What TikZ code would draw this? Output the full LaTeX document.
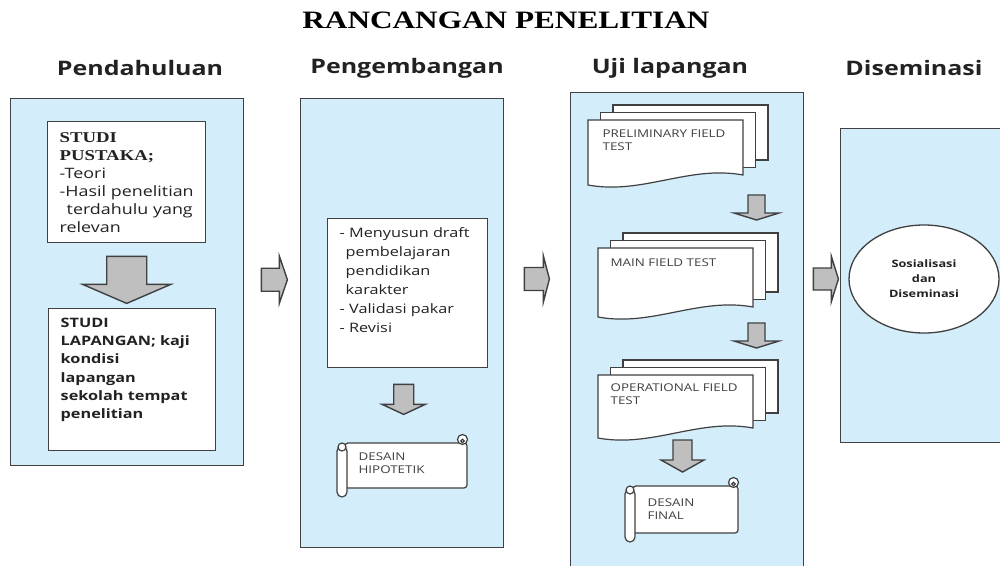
\documentclass[tikz,border=0pt]{standalone}
\usepackage{fontspec}
\setmainfont{Liberation Serif}[FakeStretch=1.25]
\setsansfont{Open Sans}[FakeStretch=1.25]
\usetikzlibrary{positioning, shapes.geometric, calc}
\definecolor{cpanel}{HTML}{D3EDFA}
\definecolor{cline}{HTML}{404040}
\definecolor{carrow}{HTML}{BFBFBF}
\definecolor{ctext}{HTML}{222222}
\tikzset{
  every picture/.style={font=\sffamily, line width=1.2pt},
  panel/.style={draw=cline, fill=cpanel, anchor=north west, inner sep=0pt, line width=1.4pt},
  box/.style={draw=cline, fill=white, anchor=north west, line width=1.4pt, text=ctext,
    inner xsep=12pt, inner ysep=9pt},
  blockarr/.style={draw=cline, fill=carrow, line width=1.4pt, line join=miter},
  page/.style={draw=cline, fill=white, line width=1.2pt},
  title/.style={font=\rmfamily\bfseries\fontsize{25}{30}\selectfont},
  header/.style={font=\sffamily\bfseries\fontsize{20}{24}\selectfont, text=ctext},
  doctext/.style={font=\sffamily\fontsize{10.7}{13}\selectfont, text=cline, align=left,
    anchor=north west, inner sep=0pt},
}
\newcommand{\serifbf}[1]{{\rmfamily\bfseries\fontsize{15}{18}\selectfont #1}}
% block arrow: [rotate]{tail}{shaft half}{shaft length}{head half}{head length}
\newcommand{\blockarrow}[6][0]{%
  \draw[blockarr, shift={#2}, rotate=#1] (0,-#3) -- (#4,-#3) -- (#4,-#5) -- (#4+#6,0)
    -- (#4,#5) -- (#4,#3) -- (0,#3) -- cycle;}
% stack of three pages: {top left of front page}{width}{height}
\newcommand{\docstack}[3]{%
  \begin{scope}[shift={#1}]
    \draw[page] (25,-15) rectangle ++(#2,#3);
    \draw[page] (12.5,-7.5) rectangle ++(#2,#3);
    \draw[page] (0,0) -- (#2,0) -- (#2,#3) .. controls (0.65*#2,#3-10) and (0.35*#2,#3+20) .. (0,#3+10) -- cycle;
  \end{scope}}
% scroll: {top left}{width}{height}
\newcommand{\scrollshape}[3]{%
  \begin{scope}[shift={#1}]
    \draw[page, rounded corners=3pt] (8,6) rectangle (#2,#3-9);
    \draw[page] (#2-4.5,2.5) circle (5);
    \draw[page] (#2-4.5,4) circle (1.8);
    \draw[page, rounded corners=5pt] (0,9) rectangle (10,#3);
    \draw[page] (5,10) circle (4);
  \end{scope}}

\begin{document}
\begin{tikzpicture}[x=1pt, y=-1pt]
  \useasboundingbox (0,0) rectangle (1000,565);
  \node[title] (title) at (506,20) {RANCANGAN PENELITIAN};
  \node[header] (hpend) at (140,68) {Pendahuluan};
  \node[header] (hpeng) at (407,68) {Pengembangan};
  \node[header] (huji) at (670,68) {Uji lapangan};
  \node[header] (hdis) at (914,68) {Diseminasi};

  % panels
  \node[panel, minimum width=233pt, minimum height=367pt] (pend) at (10,98) {};
  \node[panel, minimum width=203pt, minimum height=449pt] (peng) at (300,98) {};
  \node[panel, minimum width=233pt, minimum height=490pt] (uji) at (570,92) {};
  \node[panel, minimum width=180pt, minimum height=314pt] (dis) at (840,128) {};

  % pendahuluan
  \node[box, text width=134pt, minimum height=121pt, align=left,
    font=\sffamily\fontsize{14.3}{18}\selectfont] (pustaka) at (47,121)
    {\serifbf{STUDI}\\\serifbf{PUSTAKA;}\\-Teori\\-Hasil penelitian\\\hspace*{7pt}terdahulu yang\\relevan};
  \blockarrow[-90]{($(pustaka.south)+(0,13)$)}{20}{28}{44}{19}
  \node[box, font=\sffamily\bfseries\fontsize{13}{18.3}\selectfont] (lapangan) at (48,308)
    {\parbox[t][124pt][t]{143pt}{\raggedright STUDI\\LAPANGAN; kaji\\kondisi\\lapangan\\sekolah tempat\\penelitian}};

  % pengembangan
  \node[box, font=\sffamily\fontsize{13}{19}\selectfont] (draft) at (327,218)
    {\parbox[t][131pt][t]{136pt}{\raggedright - Menyusun draft\\\hspace*{6pt}pembelajaran\\\hspace*{6pt}pendidikan\\\hspace*{6pt}karakter\\- Validasi pakar\\- Revisi}};
  \blockarrow[-90]{($(draft.south)+(-4,16)$)}{10}{20}{21.5}{10}
  \coordinate (hipoC) at (337,437);
  \scrollshape{(hipoC)}{130}{60}
  \node[doctext] (hipo) at ($(hipoC)+(21,15)$) {DESAIN\\HIPOTETIK};

  % uji lapangan
  \coordinate (prelimC) at (588,120);
  \docstack{(prelimC)}{155}{55}
  \node[doctext] (prelim) at ($(prelimC)+(14,9)$) {PRELIMINARY FIELD\\TEST};
  \blockarrow[-90]{($(prelimC)+(168.5,75)$)}{8.5}{18}{22.5}{7}
  \coordinate (mainC) at (598,248);
  \docstack{(mainC)}{155}{59}
  \node[doctext] (mainft) at ($(mainC)+(12,10)$) {MAIN FIELD TEST};
  \blockarrow[-90]{($(mainC)+(158.5,75)$)}{8.5}{18}{22.5}{7}
  \coordinate (operC) at (598,375);
  \docstack{(operC)}{155}{53}
  \node[doctext] (operft) at ($(operC)+(12,8)$) {OPERATIONAL FIELD\\TEST};
  \blockarrow[-90]{($(operC)+(84.5,65)$)}{9.5}{20}{21.5}{12}
  \coordinate (finalC) at (625,480);
  \scrollshape{(finalC)}{113}{62}
  \node[doctext] (final) at ($(finalC)+(22,18)$) {DESAIN\\FINAL};

  % diseminasi
  \node[ellipse, draw=cline, fill=white, line width=1.3pt, minimum width=150pt, minimum height=108pt,
    align=center, text=ctext, font=\sffamily\bfseries\fontsize{10.2}{15}\selectfont] (sos) at (924,279)
    {Sosialisasi\\dan\\Diseminasi};

  % between the stages
  \blockarrow{($(pend.east)+(17,-2.5)$)}{11.5}{18}{23.5}{8}
  \blockarrow{($(peng.north east)+(20,181)$)}{11.5}{19}{23}{6}
  \blockarrow{($(uji.north east)+(9,187)$)}{11}{18}{22.5}{7}
\end{tikzpicture}
\end{document}
